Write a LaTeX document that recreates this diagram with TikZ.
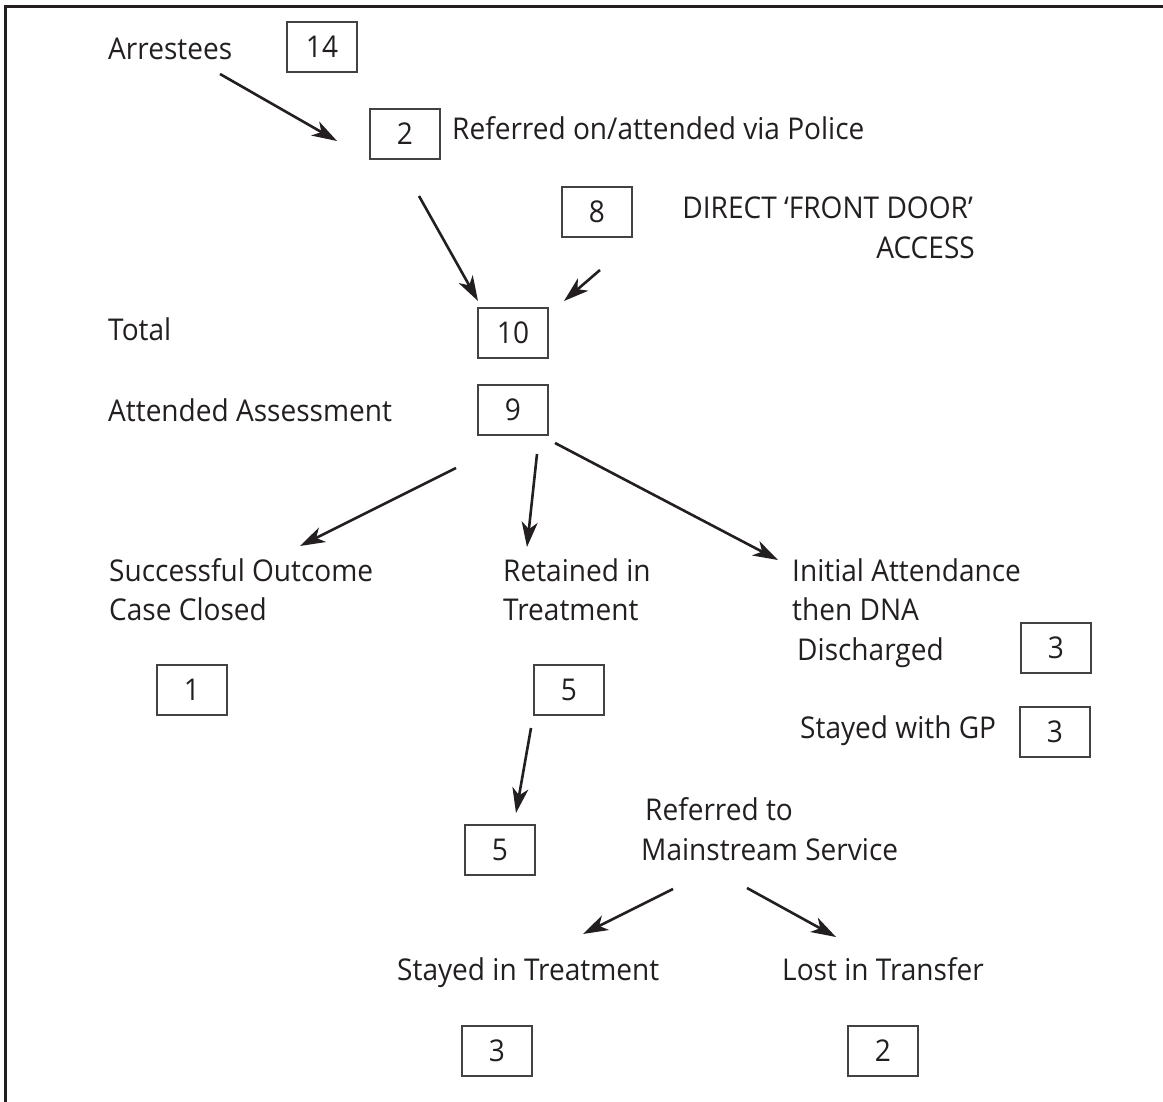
\documentclass[tikz,border=0pt]{standalone}
\usepackage{fontspec}
\setmainfont[FakeStretch=0.935]{Open Sans}
\usetikzlibrary{arrows.meta}
\definecolor{ink}{HTML}{231F20}
\begin{document}
\begin{tikzpicture}[x=1pt,y=-1pt,
  every node/.style={text=ink,font=\fontsize{30}{40}\selectfont},
  lbl/.style={anchor=base west,inner sep=0pt},
  numbox/.style={draw=ink!85,line width=1.5pt,minimum width=70pt,minimum height=50pt,inner sep=0pt},
  flow/.style={draw=ink,line width=2.6pt,-{Stealth[length=25pt,width=16pt,inset=7pt]}},
  frame/.style={draw=ink,line width=3pt}]
\useasboundingbox (0,0) rectangle (1163,1102);
\draw[frame] (5,1102) -- (5,7) -- (1163,7);
% count boxes
\node[numbox] (n14) at (322,47) {14};
\node[numbox] (n2) at (405,134) {2};
\node[numbox] (n8) at (597,212) {8};
\node[numbox] (n10) at (513,333) {10};
\node[numbox] (n9) at (513,410) {9};
\node[numbox] (n1) at (192,690) {1};
\node[numbox] (n5a) at (569,690) {5};
\node[numbox] (n3a) at (1056,648) {3};
\node[numbox] (n3b) at (1055,732) {3};
\node[numbox] (n5b) at (500,850) {5};
\node[numbox] (n3c) at (497,1051) {3};
\node[numbox] (n2b) at (883,1051) {2};
% labels
\node[lbl] (arrestees) at (108,60) {Arrestees};
\node[lbl] (referred) at (452,140) {Referred on/attended via Police};
\node[lbl,anchor=base east] (direct1) at (973,219) {DIRECT ‘FRONT DOOR’};
\node[lbl,anchor=base east] (direct2) at (975,259) {ACCESS};
\node[lbl] (total) at (108,341) {Total};
\node[lbl] (attended) at (108,421) {Attended Assessment};
\node[lbl] (succ1) at (109,581) {Successful Outcome};
\node[lbl] (succ2) at (109,620) {Case Closed};
\node[lbl] (ret1) at (503,581) {Retained in};
\node[lbl] (ret2) at (503,620) {Treatment};
\node[lbl] (init1) at (792,581) {Initial Attendance};
\node[lbl] (init2) at (792,620) {then DNA};
\node[lbl] (init3) at (797,660) {Discharged};
\node[lbl] (gp) at (800,738) {Stayed with GP};
\node[lbl] (main1) at (645,820) {Referred to};
\node[lbl] (main2) at (641,860) {Mainstream Service};
\node[lbl] (stay) at (397,980) {Stayed in Treatment};
\node[lbl] (lost) at (782,980) {Lost in Transfer};
% arrows
\draw[flow] ([shift={(112,14)}]arrestees.base west) -- ([shift={(-68,7)}]n2.center);
\draw[flow] ([shift={(14,62)}]n2.center) -- ([shift={(-35,-32)}]n10.center);
\draw[flow] ([shift={(3,58)}]n8.center) -- ([shift={(51,-32)}]n10.center);
\draw[flow] ([shift={(-57,58)}]n9.center) -- ([shift={(191,-35)}]succ1.base west);
\draw[flow] ([shift={(24,44)}]n9.center) -- ([shift={(24,-34)}]ret1.base west);
\draw[flow] ([shift={(42,33)}]n9.center) -- ([shift={(-14,-21)}]init1.base west);
\draw[flow] ([shift={(-38,38)}]n5a.center) -- ([shift={(16,-37)}]n5b.center);
\draw[flow] ([shift={(32,29)}]main2.base west) -- ([shift={(186,-46)}]stay.base west);
\draw[flow] ([shift={(106,28)}]main2.base west) -- ([shift={(54,-43)}]lost.base west);
\end{tikzpicture}
\end{document}
